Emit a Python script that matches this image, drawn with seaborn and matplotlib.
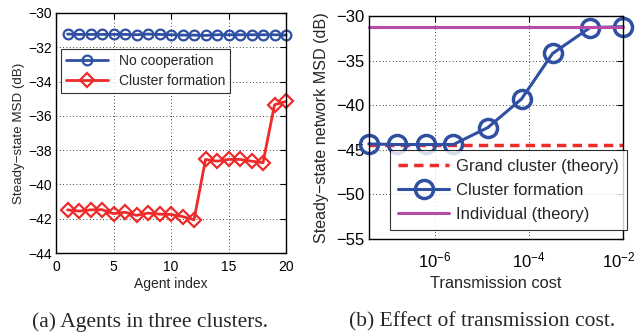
import numpy as np
import pandas as pd
import matplotlib
matplotlib.use("Agg")
import matplotlib.pyplot as plt
import matplotlib.transforms as mtransforms
import seaborn as sns

# ---- data ----
agent_index = list(range(1, 21))
no_coop_msd = [-31.23, -31.25, -31.25, -31.25, -31.25, -31.25, -31.27, -31.23, -31.25, -31.27,
               -31.29, -31.29, -31.31, -31.27, -31.27, -31.27, -31.27, -31.27, -31.27, -31.29]
cluster_msd = [-41.48, -41.55, -41.48, -41.47, -41.70, -41.62, -41.80, -41.67, -41.73, -41.75,
               -41.87, -42.06, -38.54, -38.64, -38.54, -38.54, -38.64, -38.73, -35.35, -35.16]

trans_cost = [4e-8, 1.6e-7, 6.4e-7, 2.5e-6, 1.35e-5, 7e-5, 3.2e-4, 2e-3, 1e-2]
network_msd = [-44.34, -44.4, -44.4, -44.4, -42.5, -39.3, -34.2, -31.3, -31.2]
grand_cluster_theory = -44.45
individual_theory = -31.2

captions = ["(a) Agents in three clusters.", "(b) Effect of transmission cost."]

sns.set_style("white")
plt.rcParams['font.family'] = ['Liberation Sans', 'DejaVu Sans']
plt.rcParams['mathtext.fontset'] = 'custom'
plt.rcParams['mathtext.rm'] = 'Liberation Sans'
plt.rcParams['mathtext.it'] = 'Liberation Sans:italic'
plt.rcParams['axes.unicode_minus'] = True

blue = "#2f4fa2"
red = "#ee2a2a"
magenta = "#b84aa8"

fig = plt.figure(figsize=(6.37, 3.33), dpi=100)
ax1 = fig.add_axes([0.088, 0.240, 0.361, 0.721])
ax2 = fig.add_axes([0.579, 0.282, 0.399, 0.670])

def matlab_axes(ax, fs, xpad):
    for s in ax.spines.values():
        s.set_color("black")
        s.set_linewidth(1.0)
    ax.grid(True, linestyle=(0, (1, 3)), color="black", linewidth=0.6)
    ax.tick_params(direction="in", length=4, width=0.8, labelsize=fs,
                   top=True, right=True, colors="black", pad=3)
    ax.tick_params(axis="x", pad=xpad)

# ---- (a) ----
sns.lineplot(x=agent_index, y=no_coop_msd, ax=ax1, color=blue, linewidth=2,
             marker="o", markersize=7, markerfacecolor="none",
             markeredgecolor=blue, markeredgewidth=1.6, label="No cooperation")
sns.lineplot(x=agent_index, y=cluster_msd, ax=ax1, color=red, linewidth=2,
             marker="D", markersize=7, markerfacecolor="none",
             markeredgecolor=red, markeredgewidth=1.6, label="Cluster formation")
ax1.set_xlim(0, 20)
ax1.set_ylim(-44, -30)
ax1.set_xticks([0, 5, 10, 15, 20])
ax1.set_yticks(np.arange(-44, -29, 2))
ax1.set_xlabel("Agent index", fontsize=10, labelpad=2)
ax1.set_ylabel("Steady\u2212state MSD (dB)", fontsize=9.6, labelpad=2)
matlab_axes(ax1, 10, 5)
for ln in ax1.lines:
    ln.set_clip_on(False)
leg1 = ax1.legend(loc="upper left", bbox_to_anchor=(0.01, 0.86), fontsize=10,
                  frameon=True, fancybox=False, edgecolor="black",
                  borderpad=0.35, handlelength=3.0, labelspacing=0.4,
                  borderaxespad=0.2)
leg1.get_frame().set_linewidth(0.8)

# ---- (b) ----
ax2.axhline(grand_cluster_theory, color=red, linewidth=2.5, linestyle=(0, (2.7, 1.8)),
            label="Grand cluster (theory)")
sns.lineplot(x=trans_cost, y=network_msd, ax=ax2, color=blue, linewidth=2.2,
             marker="o", markersize=13, markerfacecolor="none",
             markeredgecolor=blue, markeredgewidth=2.5, label="Cluster formation")
ax2.axhline(individual_theory, color=magenta, linewidth=2.2, label="Individual (theory)")
ax2.set_xscale("log")
ax2.set_xlim(trans_cost[0], trans_cost[-1])
ax2.set_ylim(-55, -30)
ax2.set_xticks([1e-6, 1e-4, 1e-2])
ax2.set_xticklabels([r"$10^{-6}$", r"$10^{-4}$", r"$10^{-2}$"])
ax2.xaxis.set_minor_locator(matplotlib.ticker.NullLocator())
ax2.set_yticks(np.arange(-55, -29, 5))
ax2.set_xlabel("Transmission cost", fontsize=11.8, labelpad=4)
ax2.set_ylabel("Steady\u2212state network MSD (dB)", fontsize=11.6, labelpad=5)
matlab_axes(ax2, 12, 8)
for ln in ax2.lines:
    ln.set_clip_on(False)
# nudge the last tick label so it stays inside the canvas
last_lbl = ax2.get_xticklabels()[-1]
last_lbl.set_transform(last_lbl.get_transform() +
                       mtransforms.ScaledTranslation(-3 / 72, 0, fig.dpi_scale_trans))
leg2 = ax2.legend(loc="lower right", bbox_to_anchor=(1.015, 0.04), fontsize=12,
                  frameon=True, fancybox=False, edgecolor="black",
                  borderpad=0.5, handlelength=3.05, handletextpad=0.4,
                  labelspacing=0.55, borderaxespad=0.0)
leg2.get_frame().set_linewidth(0.8)

# ---- captions ----
fig.text(0.235, 0.033, captions[0], ha="center", va="center", fontsize=15.5,
         family="Liberation Serif")
fig.text(0.757, 0.033, captions[1], ha="center", va="center", fontsize=15.5,
         family="Liberation Serif")

fig.savefig("out.png", dpi=100)
